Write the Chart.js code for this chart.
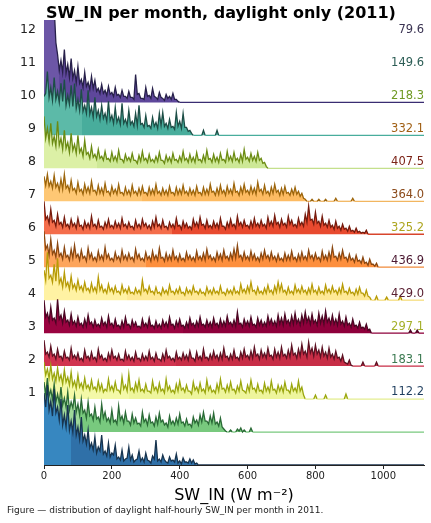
<!DOCTYPE html>
<html>
<head>
<meta charset="utf-8">
<script src="https://cdn.jsdelivr.net/npm/chart.js@4.4.1/dist/chart.umd.min.js"></script>
<style>
  html, body { margin: 0; padding: 0; background: #fff; }
  #wrap { width: 431px; height: 523px; position: relative; }
</style>
</head>
<body>
<div id="wrap"><canvas id="ridges"></canvas></div>
<script>
// month labels, bottom ridge first
const MONTHS = ['1', '2', '3', '4', '5', '6', '7', '8', '9', '10', '11', '12'];
const X_TICKS = [0, 200, 400, 600, 800, 1000];
const X_MAX = 1120;
const BIN_WIDTH = 5; // W m-2 per histogram bin

// monthly mean SW_IN (printed on the right)
const MEANS = [112.2, 183.1, 297.1, 429.0, 436.9, 325.2, 364.0, 407.5, 332.1, 218.3, 149.6, 79.6];
// monthly median (where the fill switches shade)
const MEDIANS = [80, 105, 250, 390, 410, 245, 300, 378, 290, 156, 112, 45];

// half-hourly counts per 5 W m-2 bin
const JAN = [72,58, 80,55, 64,49, 76,52, 58,45, 66,40, 50,38, 60,35, 44,33, 55,30, 38,26, 48,24,
  30,21, 35,17, 22,15, 28,12, 18,14, 30,11, 14,9, 22,8, 12,10, 20,6, 8,5, 15,4, 6,7, 18,5, 10,3,
  5,6, 14,4, 7,3, 12,5, 4,2, 9,6, 25,4, 6,3, 10,5, 3,2, 8,4, 5,3, 11,2, 4,1, 7,3, 3,2, 6,2, 5,1,
  2,0, 0];
const FEB = [50,38, 54,36, 42,33, 48,30, 38,29, 45,27, 34,25, 40,22, 30,24, 37,20, 28,17, 33,19,
  22,14, 30,16, 18,12, 25,13, 15,10, 28,14, 20,11, 14,9, 22,10, 12,8, 26,12, 16,9, 20,11, 11,7,
  18,9, 14,8, 9,6, 20,10, 13,7, 17,9, 10,6, 15,8, 19,10, 12,7, 9,5, 16,8, 11,7, 14,8, 18,9, 10,6,
  13,7, 8,5, 15,9, 12,7, 17,10, 20,11, 11,8, 16,9, 19,8, 10,6, 14,5, 3,1, 0,0, 2,0, 0,0, 3,1,
  4,0, 2,0, 0,0, 4,0, 0];
const MAR = [37,24, 30,21, 34,20, 26,18, 31,19, 24,15, 29,17, 22,14, 27,13, 18,11, 24,12, 16,10,
  21,11, 14,9, 19,10, 12,8, 18,9, 15,7, 10,8, 20,9, 13,8, 17,9, 9,6, 22,10, 14,8, 25,9, 11,7,
  16,9, 19,8, 10,7, 15,8, 8,6, 18,9, 12,7, 16,8, 10,6, 20,9, 13,7, 9,6, 15,8, 18,9, 11,7, 14,8,
  8,5, 17,9, 12,7, 16,8, 10,6, 19,9, 13,7, 9,6, 15,8, 20,10, 11,7, 14,8, 17,9, 10,6, 13,8, 18,9,
  8,6, 14,8, 19,10, 11,7, 15,8, 9,6, 16,8, 12,7, 18,9, 10,6, 14,8, 13,7, 17,9, 9,6, 15,8, 11,7,
  18,8, 12,4, 0,0, 0,0, 0,0, 4,0, 0,0, 0,0, 4,0, 0,0, 0,0, 0,0, 0,0, 0,0, 5,0, 0];
const APR = [26,12, 14,9, 20,10, 12,7, 17,9, 10,6, 15,8, 9,6, 18,8, 11,7, 13,6, 8,5, 16,8, 10,6,
  14,7, 9,5, 17,8, 11,6, 8,5, 13,7, 16,8, 10,6, 12,6, 7,5, 15,7, 11,6, 9,5, 14,7, 8,5, 12,6,
  10,6, 15,7, 9,5, 13,7, 7,5, 12,6, 16,8, 10,6, 8,5, 14,7, 9,6, 13,7, 11,6, 15,8, 8,5, 14,7,
  10,6, 17,8, 9,6, 12,7, 15,8, 11,6, 13,7, 18,9, 10,6, 12,7, 16,8, 9,6, 14,8, 17,9, 11,7, 15,8,
  19,10, 12,7, 16,9, 13,8, 18,10, 11,7, 17,9, 14,8, 19,10, 12,8, 16,9, 21,11, 13,8, 17,10,
  22,12, 15,9, 24,13, 18,10, 21,12, 16,9, 19,10, 14,8, 18,9, 12,7, 15,8, 9,5, 11,4, 3,2, 6,1,
  0,0, 0,0, 0,0, 4,0, 0,0, 0,0, 0,0, 4,0, 0];
const MAY = [33,16, 20,12, 26,13, 15,10, 34,14, 18,10, 22,11, 13,8, 19,9, 12,7, 16,8, 10,6, 14,7,
  18,9, 11,6, 13,7, 9,6, 15,8, 11,6, 17,8, 10,6, 14,7, 8,5, 12,6, 16,8, 9,5, 13,7, 11,6, 7,5,
  14,7, 10,6, 15,7, 8,5, 12,6, 9,5, 13,7, 11,6, 16,8, 9,5, 12,7, 14,7, 8,5, 11,6, 15,8, 10,6,
  12,7, 16,8, 9,6, 13,7, 11,6, 15,8, 10,6, 14,7, 12,7, 17,9, 11,7, 13,7, 21,9, 10,6, 14,8, 12,7,
  16,8, 9,6, 15,8, 13,7, 11,7, 17,9, 14,8, 12,7, 18,9, 15,8, 19,10, 13,8, 17,9, 20,10, 14,8,
  18,10, 21,11, 16,9, 19,10, 13,8, 20,10, 17,9, 22,11, 15,9, 18,9, 14,8, 19,9, 12,7, 16,8, 10,6,
  14,7, 8,5, 11,5, 6,4, 9,3, 4,0, 0,0, 0,0, 0,0, 0,0, 0,0, 0,0, 0,0, 0,0, 0,0, 0,0, 0,0, 3,0,
  0,0, 3,0, 0];
const JUN = [30,20, 48,22, 25,18, 36,19, 42,17, 22,13, 28,14, 18,11, 24,12, 16,10, 20,11, 14,9,
  18,10, 12,8, 17,9, 13,8, 23,10, 15,8, 11,7, 16,9, 12,7, 14,8, 9,6, 15,8, 11,7, 13,7, 8,6, 12,7,
  10,6, 20,9, 11,7, 14,8, 9,6, 13,7, 8,5, 12,7, 10,6, 15,8, 9,6, 11,7, 13,7, 8,5, 12,7, 10,6,
  14,8, 9,6, 11,7, 8,5, 13,7, 10,6, 12,7, 9,6, 14,7, 8,5, 11,7, 10,6, 13,7, 9,6, 16,8, 11,7,
  14,8, 18,9, 10,6, 13,7, 9,6, 12,7, 15,8, 10,6, 14,8, 18,9, 16,8, 10,6, 13,7, 9,6, 15,8, 11,7,
  14,8, 10,6, 12,7, 16,8, 10,6, 13,7, 9,6, 15,8, 11,7, 14,8, 10,6, 12,7, 16,8, 9,6, 12,7, 8,5,
  11,6, 13,7, 7,4, 10,4, 3,0, 0,0, 4,0, 0,0, 0,0, 3,0, 0,0, 0,0, 0,0, 4,0, 0];
const JUL = [36,18, 22,12, 28,13, 17,10, 24,11, 14,8, 20,10, 12,7, 18,9, 22,10, 13,7, 17,9, 11,6,
  19,9, 14,7, 10,6, 16,8, 12,7, 20,9, 13,7, 9,6, 15,8, 11,6, 17,8, 12,7, 14,8, 10,6, 18,9, 13,7,
  9,6, 15,8, 11,6, 16,8, 12,7, 19,9, 10,6, 14,7, 12,7, 17,8, 11,6, 13,7, 9,6, 15,8, 12,7, 10,6,
  16,8, 11,7, 14,7, 18,9, 12,7, 10,6, 15,8, 13,7, 17,9, 11,7, 14,8, 18,9, 22,10, 12,7, 15,8,
  11,7, 16,8, 13,7, 10,6, 14,8, 17,9, 12,7, 15,8, 11,6, 13,7, 9,6, 14,7, 12,7, 16,8, 10,6, 13,7,
  15,8, 11,7, 17,9, 12,7, 14,8, 10,6, 16,8, 12,7, 15,8, 20,10, 11,7, 14,8, 17,9, 10,6, 13,7,
  9,5, 12,6, 7,4, 10,4, 5,2, 8,3, 3,1, 4,0, 0,0, 0];
const AUG = [33,15, 18,11, 25,12, 14,8, 20,10, 12,7, 17,8, 10,6, 15,8, 11,6, 16,8, 9,5, 13,7, 11,6,
  18,8, 10,6, 14,7, 8,5, 12,7, 15,7, 9,6, 13,7, 11,6, 16,8, 10,6, 12,7, 8,5, 14,7, 10,6, 15,8,
  11,6, 9,5, 13,7, 17,8, 10,6, 14,7, 8,5, 12,7, 10,6, 16,8, 9,5, 13,7, 11,6, 8,5, 15,8, 12,7,
  17,9, 10,6, 14,7, 9,6, 13,7, 11,6, 16,8, 8,5, 12,7, 15,8, 10,6, 18,9, 12,7, 14,8, 9,6, 13,7,
  16,8, 11,7, 14,8, 10,6, 17,9, 13,8, 19,10, 12,7, 15,9, 11,7, 18,10, 14,8, 10,7, 16,9, 12,8,
  20,12, 28,14, 15,10, 22,11, 13,8, 18,9, 11,7, 14,7, 9,5, 13,6, 8,4, 10,5, 6,3, 8,3, 4,2, 6,2,
  3,1, 2,1, 4,0, 0,0, 0];
const SEP = [25,16, 27,15, 20,13, 26,14, 18,11, 22,12, 27,13, 16,10, 21,11, 13,8, 19,10, 12,7,
  17,9, 14,8, 20,10, 11,7, 16,8, 13,7, 18,9, 10,6, 15,8, 12,7, 17,8, 9,6, 14,7, 11,6, 16,8, 10,6,
  13,7, 15,8, 9,6, 14,7, 12,7, 17,8, 10,6, 13,7, 11,6, 15,8, 9,6, 14,7, 12,7, 16,8, 10,6, 13,7,
  11,6, 15,8, 9,6, 14,7, 12,7, 17,9, 10,6, 13,7, 16,8, 11,6, 15,8, 12,7, 18,9, 10,6, 14,8, 17,9,
  11,7, 15,8, 13,7, 19,10, 12,7, 16,8, 10,6, 14,8, 17,9, 11,6, 13,7, 15,8, 9,6, 12,7, 14,7, 10,5,
  8,3, 2,0, 0,0, 2,0, 0,0, 2,0, 0,0, 2,0, 0,0, 0,0, 3,0, 0,0, 0,0, 0,0, 0,0, 3,0, 0,0, 0];
const OCT = [52,30, 40,27, 45,25, 32,22, 47,23, 30,19, 38,20, 26,16, 35,18, 24,15, 33,16, 20,12,
  28,14, 16,10, 22,11, 14,9, 19,10, 12,8, 17,9, 10,7, 16,8, 12,7, 18,9, 9,6, 14,8, 11,7, 15,8,
  8,5, 13,7, 17,8, 10,6, 14,7, 9,6, 12,7, 16,8, 8,5, 13,7, 11,6, 15,8, 9,6, 12,7, 17,8, 10,6,
  14,7, 11,6, 16,8, 9,6, 13,7, 18,9, 10,6, 14,7, 11,6, 15,8, 9,6, 17,8, 12,7, 16,8, 10,6, 14,7,
  19,9, 11,7, 15,8, 12,7, 16,8, 10,5, 6,2, 0];
const NOV = [39,42, 64,38, 48,35, 58,36, 44,33, 52,34, 56,30, 40,31, 50,29, 52,27, 36,25, 46,24,
  30,22, 45,21, 28,18, 38,19, 25,16, 30,17, 22,14, 34,15, 20,12, 28,13, 18,11, 32,12, 16,10,
  25,11, 14,9, 22,10, 30,11, 12,8, 20,9, 10,7, 18,9, 13,7, 22,10, 23,9, 12,7, 16,8, 9,6, 23,9,
  14,7, 22,8, 8,4, 5,2, 0,0, 0,0, 0,0, 5,0, 0,0, 0,0, 0,0, 5,0, 0];
const DEC = [110,100, 120,96, 105,90, 95,60, 48,32, 42,30, 53,29, 38,25, 44,24, 32,20, 36,19,
  23,15, 30,16, 20,13, 26,14, 22,11, 14,9, 18,9, 12,7, 16,8, 10,6, 15,7, 8,5, 12,6, 6,4, 11,5,
  5,3, 28,8, 9,4, 4,3, 15,6, 7,4, 14,6, 5,3, 10,5, 4,2, 8,4, 6,3, 9,3, 3,1, 0];

const COUNTS = [JAN, FEB, MAR, APR, MAY, JUN, JUL, AUG, SEP, OCT, NOV, DEC];

// styling per ridge: light fill below median, deeper fill above, outline, baseline, label
const COLORS = [
  { lo: '#3787c0', hi: '#2f70a8', line: '#17344f', base: '#1c3550', text: '#1f3e5e' },
  { lo: '#9fd89a', hi: '#78c97e', line: '#2a6a36', base: '#78c97e', text: '#3c7b52' },
  { lo: '#f4f9a8', hi: '#eef59c', line: '#9aa60e', base: '#e4ee90', text: '#a5b02a' },
  { lo: '#d0344f', hi: '#c72d46', line: '#5c1122', base: '#c72d46', text: '#5a2032' },
  { lo: '#9a0340', hi: '#8e003b', line: '#4a0522', base: '#8e003b', text: '#4b1831' },
  { lo: '#fff2a3', hi: '#fee996', line: '#b79b06', base: '#f6de80', text: '#ada51e' },
  { lo: '#fda55c', hi: '#fd8f3d', line: '#8a4710', base: '#f08a3a', text: '#8b4a1a' },
  { lo: '#f46d4b', hi: '#e84a2f', line: '#761b0d', base: '#d8452c', text: '#7c2418' },
  { lo: '#fec774', hi: '#fdbb62', line: '#9c650c', base: '#f2b660', text: '#a05f14' },
  { lo: '#dcf0a6', hi: '#cde896', line: '#6b8b13', base: '#c4e08c', text: '#6f9a24' },
  { lo: '#5cbaa8', hi: '#48ad9c', line: '#1d4e46', base: '#48ad9c', text: '#2c5d55' },
  { lo: '#6c56a6', hi: '#5e479b', line: '#27204a', base: '#3a2d72', text: '#3a3352' }
];

const SLOT_COUNTS = 33;   // counts that fill one ridge slot
const LABEL_SHIFT = 2.2;  // label k sits this many slots above ridge k-1 baseline
const FONT = '"DejaVu Sans", sans-serif';

function splitFill(ctx, i) {
  const chart = ctx.chart;
  const area = chart.chartArea;
  const c = COLORS[i];
  if (!area || !chart.scales.x) return c.hi;
  const split = chart.scales.x.getPixelForValue(MEDIANS[i]);
  let f = (split - area.left) / (area.right - area.left);
  f = Math.min(Math.max(f, 0), 1);
  const g = chart.ctx.createLinearGradient(area.left, 0, area.right, 0);
  g.addColorStop(0, c.lo);
  g.addColorStop(f, c.lo);
  g.addColorStop(f, c.hi);
  g.addColorStop(1, c.hi);
  return g;
}

const datasets = COUNTS.map((counts, i) => {
  const pts = counts.map((n, j) => ({ x: j * BIN_WIDTH, y: i + n / SLOT_COUNTS }));
  pts.push({ x: X_MAX, y: i });
  return {
    label: MONTHS[i],
    data: pts,
    borderColor: COLORS[i].line,
    borderWidth: 1.3,
    pointRadius: 0,
    tension: 0,
    fill: { value: i },
    backgroundColor: ctx => splitFill(ctx, i),
    segment: {
      borderColor: s => (s.p0.parsed.y === i && s.p1.parsed.y === i) ? COLORS[i].base : undefined
    }
  };
});

// titles, month labels and means drawn straight on the canvas
const textPlugin = {
  id: 'ridgeText',
  afterDraw(chart) {
    const c = chart.ctx;
    const area = chart.chartArea;
    const y = chart.scales.y;
    c.save();
    c.textBaseline = 'middle';

    c.fillStyle = '#000';
    c.textAlign = 'center';
    c.font = 'bold 16px ' + FONT;
    c.fillText('SW_IN per month, daylight only (2011)', 221, 14);

    MONTHS.forEach((m, i) => {
      const py = y.getPixelForValue(i + LABEL_SHIFT);
      c.textAlign = 'right';
      c.font = '12.5px ' + FONT;
      c.fillStyle = '#222';
      c.fillText(m, area.left - 8, py);
      c.font = '11.5px ' + FONT;
      c.fillStyle = COLORS[i].text;
      c.fillText(MEANS[i].toFixed(1), area.right, py);
    });

    c.fillStyle = '#000';
    c.textAlign = 'center';
    c.font = '16px ' + FONT;
    c.fillText('SW_IN (W m\u207B\u00B2)', (area.left + area.right) / 2, 496);

    c.textAlign = 'left';
    c.font = '9px ' + FONT;
    c.fillStyle = '#222';
    c.fillText('Figure \u2014 distribution of daylight half-hourly SW_IN per month in 2011.', 7, 511);
    c.restore();
  }
};

new Chart(document.getElementById('ridges'), {
  type: 'line',
  data: { datasets },
  options: {
    responsive: true,
    maintainAspectRatio: false,
    animation: false,
    layout: { padding: { left: 44, right: 7, top: 20, bottom: 36 } },
    plugins: {
      legend: { display: false },
      tooltip: { enabled: false }
    },
    scales: {
      x: {
        type: 'linear',
        min: 0,
        max: X_MAX,
        afterBuildTicks: scale => { scale.ticks = X_TICKS.map(v => ({ value: v })); },
        afterFit: scale => { scale.height = 22; },
        grid: { drawOnChartArea: false, drawTicks: true, tickLength: 4, color: '#222' },
        border: { display: true, color: '#222', width: 1 },
        ticks: {
          padding: 1,
          color: '#222',
          font: { family: FONT, size: 10 },
          callback: v => String(v)
        }
      },
      y: {
        display: false,
        min: 0,
        max: 13.5
      }
    }
  },
  plugins: [textPlugin]
});
</script>
</body>
</html>
